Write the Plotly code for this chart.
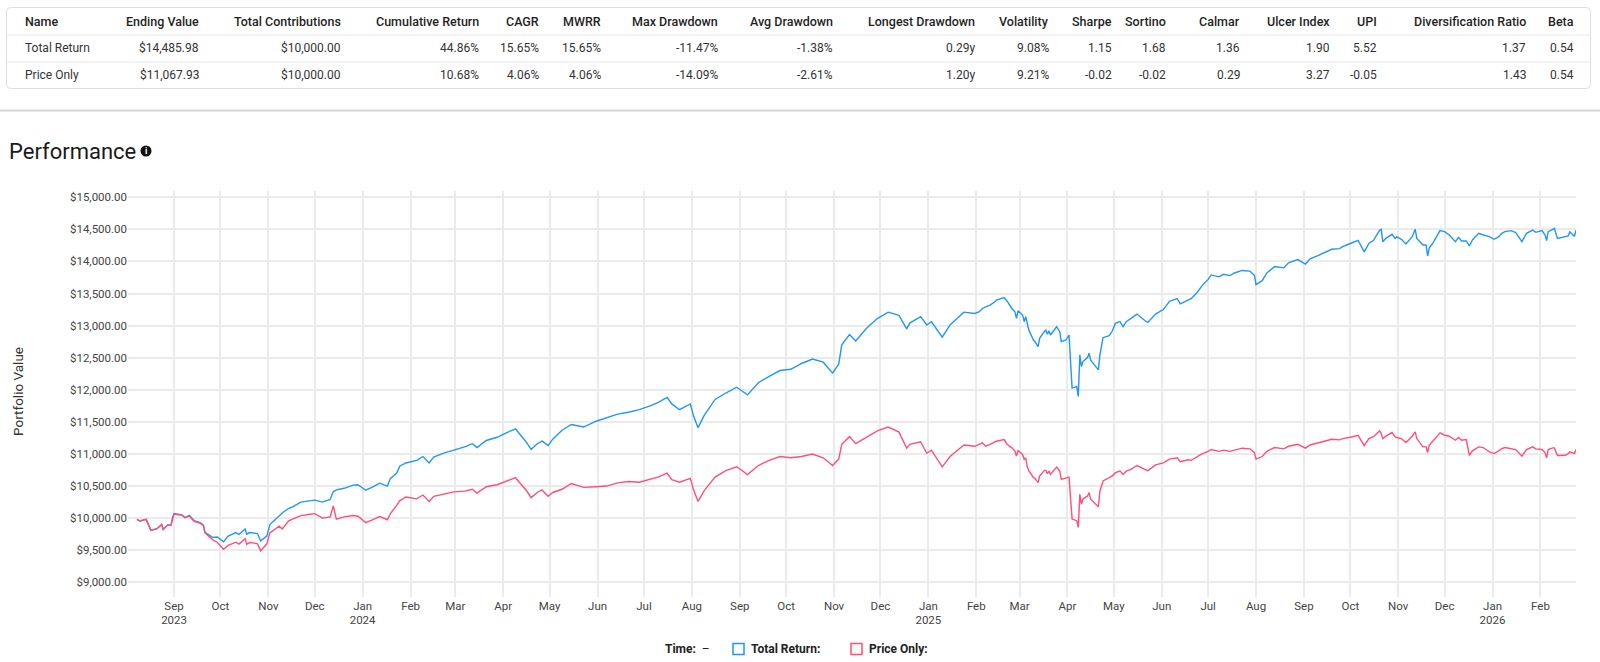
import plotly.graph_objects as go
import pandas as pd

W, H = 1600, 662

# ---------------- data ----------------
dates = [
    "2023-08-08", "2023-08-10", "2023-08-14", "2023-08-17", "2023-08-21", "2023-08-24", "2023-08-25",
    "2023-08-28", "2023-08-30", "2023-08-31", "2023-09-01", "2023-09-06", "2023-09-08", "2023-09-11",
    "2023-09-14", "2023-09-18", "2023-09-20", "2023-09-21", "2023-09-26", "2023-09-29", "2023-10-03",
    "2023-10-06", "2023-10-11", "2023-10-13", "2023-10-17", "2023-10-18", "2023-10-20", "2023-10-23",
    "2023-10-25", "2023-10-27", "2023-10-31", "2023-11-02", "2023-11-06", "2023-11-08", "2023-11-10",
    "2023-11-14", "2023-11-17", "2023-11-22", "2023-11-28", "2023-12-01", "2023-12-06", "2023-12-11",
    "2023-12-13", "2023-12-15", "2023-12-20", "2023-12-26", "2023-12-29", "2024-01-03", "2024-01-08",
    "2024-01-12", "2024-01-17", "2024-01-19", "2024-01-23", "2024-01-25", "2024-01-29",
    "2024-02-05", "2024-02-09", "2024-02-13", "2024-02-16", "2024-02-22", "2024-02-29", "2024-03-07",
    "2024-03-12", "2024-03-15", "2024-03-21", "2024-03-28", "2024-04-03", "2024-04-09", "2024-04-12",
    "2024-04-16", "2024-04-19", "2024-04-23", "2024-04-26", "2024-04-30", "2024-05-03", "2024-05-09",
    "2024-05-15", "2024-05-23", "2024-05-31", "2024-06-07", "2024-06-14", "2024-06-21", "2024-06-28",
    "2024-07-05", "2024-07-10", "2024-07-16", "2024-07-19", "2024-07-24", "2024-07-31", "2024-08-02",
    "2024-08-05", "2024-08-09", "2024-08-16", "2024-08-23", "2024-08-30", "2024-09-06", "2024-09-13",
    "2024-09-20", "2024-09-27", "2024-10-04", "2024-10-11", "2024-10-18", "2024-10-25", "2024-10-31",
    "2024-11-04", "2024-11-06", "2024-11-11", "2024-11-15", "2024-11-22", "2024-11-29", "2024-12-06",
    "2024-12-13", "2024-12-18", "2024-12-20", "2024-12-27", "2024-12-31", "2025-01-03", "2025-01-10",
    "2025-01-15", "2025-01-24", "2025-01-31",
    "2025-02-03", "2025-02-05", "2025-02-07", "2025-02-10", "2025-02-13", "2025-02-14", "2025-02-19",
    "2025-02-21", "2025-02-24", "2025-02-25", "2025-02-26", "2025-02-27", "2025-02-28", "2025-03-03",
    "2025-03-04", "2025-03-05", "2025-03-06", "2025-03-07", "2025-03-10", "2025-03-11", "2025-03-13",
    "2025-03-14", "2025-03-17", "2025-03-18", "2025-03-19", "2025-03-20", "2025-03-21", "2025-03-25",
    "2025-03-27", "2025-03-28", "2025-03-31", "2025-04-02", "2025-04-04", "2025-04-07", "2025-04-08",
    "2025-04-09", "2025-04-10", "2025-04-11", "2025-04-14", "2025-04-15", "2025-04-16", "2025-04-17",
    "2025-04-21", "2025-04-22", "2025-04-24", "2025-04-28", "2025-04-30", "2025-05-02", "2025-05-05",
    "2025-05-07", "2025-05-09", "2025-05-12",
    "2025-05-16", "2025-05-21", "2025-05-23", "2025-05-28", "2025-06-02", "2025-06-06", "2025-06-11",
    "2025-06-13", "2025-06-18", "2025-06-20", "2025-06-24", "2025-06-27", "2025-07-01", "2025-07-03",
    "2025-07-08", "2025-07-11", "2025-07-15", "2025-07-18", "2025-07-23", "2025-07-28", "2025-07-31",
    "2025-08-01", "2025-08-05", "2025-08-08", "2025-08-13", "2025-08-19", "2025-08-22", "2025-08-28",
    "2025-09-02", "2025-09-05", "2025-09-10", "2025-09-15", "2025-09-19", "2025-09-24", "2025-09-26",
    "2025-10-01", "2025-10-06", "2025-10-10", "2025-10-13", "2025-10-16",
    "2025-10-20", "2025-10-21", "2025-10-22", "2025-10-24", "2025-10-28", "2025-10-30", "2025-10-31",
    "2025-11-03", "2025-11-06", "2025-11-10", "2025-11-12", "2025-11-13", "2025-11-17", "2025-11-19",
    "2025-11-20", "2025-11-21", "2025-11-24", "2025-11-28", "2025-12-01", "2025-12-04", "2025-12-08",
    "2025-12-10", "2025-12-12", "2025-12-15", "2025-12-17", "2025-12-19", "2025-12-23", "2025-12-26",
    "2025-12-30", "2026-01-02", "2026-01-05", "2026-01-07", "2026-01-09", "2026-01-13", "2026-01-16",
    "2026-01-20", "2026-01-23", "2026-01-27", "2026-01-29", "2026-02-02", "2026-02-04", "2026-02-05",
    "2026-02-06", "2026-02-09", "2026-02-10", "2026-02-12", "2026-02-17", "2026-02-19", "2026-02-20",
    "2026-02-23", "2026-02-24",
]

total_return = [
    9980, 9955, 9980, 9810, 9835, 9900, 9825,
    9895, 9890, 10010, 10070, 10050, 10010, 10045,
    9960, 9930, 9890, 9780, 9700, 9705, 9630,
    9720, 9775, 9745, 9830, 9750, 9775, 9765,
    9760, 9645, 9720, 9900, 9990, 10030, 10080,
    10150, 10180, 10250, 10265, 10280, 10250, 10290,
    10410, 10440, 10465, 10515, 10520, 10435, 10490,
    10545, 10500, 10620, 10700, 10810, 10860,
    10900, 10960, 10860, 10950, 11010, 11060, 11110,
    11160, 11100, 11210, 11260, 11330, 11390, 11300,
    11180, 11070, 11160, 11200, 11130, 11230, 11370,
    11460, 11420, 11510, 11560, 11620, 11650, 11690,
    11750, 11800, 11880, 11780, 11690, 11780, 11600,
    11410, 11600, 11850, 11950, 12040, 11920, 12110,
    12210, 12300, 12320, 12410, 12480, 12430, 12260,
    12400, 12700, 12860, 12760, 12960, 13110, 13210,
    13160, 12950, 13040, 13140, 13010, 13060, 12820,
    13010, 13210, 13190,
    13216, 13267, 13293, 13319, 13371, 13397, 13438,
    13380, 13267, 13241, 13216, 13112, 13230, 13164,
    13061, 13138, 13035, 12930, 12776, 12750, 12673,
    12802, 12905, 12931, 12866, 12918, 12854, 12983,
    12905, 12750, 12776, 12854, 12027, 12053, 11897,
    12544, 12363, 12440, 12502, 12569, 12466, 12430,
    12311, 12544, 12812, 12843, 12916, 13035, 13061,
    12983, 13061, 13112,
    13180, 13080, 13050, 13180, 13250, 13380, 13420,
    13340, 13400, 13420, 13520, 13620, 13720, 13790,
    13760, 13800, 13780, 13820, 13860, 13850, 13780,
    13640, 13700, 13820, 13920, 13900, 13980, 14030,
    13960, 14040, 14090, 14140, 14190, 14200, 14230,
    14280, 14330, 14150, 14280, 14330,
    14490, 14501, 14308, 14360, 14423, 14360, 14386,
    14345, 14272, 14386, 14501, 14360, 14256, 14256,
    14085, 14204, 14308, 14480, 14464, 14412, 14308,
    14376, 14319, 14319, 14241, 14334, 14438, 14412,
    14386, 14345, 14386, 14438, 14464, 14480, 14449,
    14308, 14438, 14490, 14454, 14480, 14412, 14324,
    14464, 14501, 14516, 14360, 14386, 14397, 14464,
    14390, 14485.98,
]

price_only = [
    9980, 9955, 9980, 9810, 9835, 9900, 9825,
    9895, 9888, 10005, 10065, 10045, 10005, 10030,
    9950, 9920, 9880, 9770, 9665, 9620, 9515,
    9575, 9625, 9595, 9680, 9590, 9620, 9610,
    9600, 9490, 9600, 9770, 9835, 9875, 9830,
    9955, 9990, 10040, 10060, 10070, 10000, 10020,
    10190, 9985, 10020, 10040, 10030, 9930, 9980,
    10025, 9975, 10070, 10200, 10270, 10330,
    10300, 10360, 10260, 10340, 10370, 10410, 10420,
    10450, 10390, 10490, 10520, 10570, 10630, 10540,
    10430, 10320, 10400, 10440, 10340, 10400, 10450,
    10540, 10480, 10490, 10500, 10550, 10570, 10560,
    10610, 10640, 10700, 10600, 10560, 10620, 10450,
    10260, 10430, 10640, 10740, 10800, 10680, 10820,
    10900, 10960, 10940, 10960, 11000, 10940, 10820,
    10920, 11150, 11270, 11160, 11260, 11360, 11420,
    11340, 11090, 11150, 11190, 11010, 11060, 10800,
    10960, 11140, 11120,
    11148, 11174, 11122, 11148, 11189, 11199, 11225,
    11148, 11096, 11070, 11044, 10966, 11054, 10992,
    10915, 10941, 10800, 10740, 10630, 10620, 10553,
    10657, 10744, 10744, 10692, 10734, 10682, 10796,
    10734, 10605, 10630, 10640, 9985, 9960, 9855,
    10372, 10217, 10295, 10346, 10398, 10295, 10270,
    10176, 10424, 10579, 10630, 10657, 10708, 10734,
    10682, 10734, 10760,
    10820, 10760, 10740, 10830, 10860, 10920, 10940,
    10880, 10910, 10900, 10960, 11000, 11040, 11070,
    11040, 11060, 11040, 11060, 11090, 11080, 11020,
    10920, 10960, 11040, 11100, 11080, 11120, 11150,
    11090, 11140, 11170, 11200, 11230, 11220, 11240,
    11260, 11290, 11130, 11240, 11270,
    11360, 11318, 11240, 11277, 11334, 11266, 11256,
    11240, 11178, 11277, 11344, 11240, 11110, 11110,
    11022, 11136, 11214, 11329, 11292, 11277, 11214,
    11256, 11214, 11225, 10980, 11048, 11110, 11100,
    11032, 11006, 11048, 11084, 11100, 11084, 11069,
    10965, 11069, 11110, 11079, 11069, 11017, 10939,
    11069, 11095, 11095, 10975, 10980, 11006, 11032,
    11006, 11067.93,
]

series_names = ["Total Return", "Price Only"]
series_colors = ["#2196F3", "#FF4F78"]

table_columns = ["Name", "Ending Value", "Total Contributions", "Cumulative Return", "CAGR", "MWRR",
                 "Max Drawdown", "Avg Drawdown", "Longest Drawdown", "Volatility", "Sharpe", "Sortino",
                 "Calmar", "Ulcer Index", "UPI", "Diversification Ratio", "Beta"]
row_total_return = ["Total Return", "$14,485.98", "$10,000.00", "44.86%", "15.65%", "15.65%", "-11.47%",
                    "-1.38%", "0.29y", "9.08%", "1.15", "1.68", "1.36", "1.90", "5.52", "1.37", "0.54"]
row_price_only = ["Price Only", "$11,067.93", "$10,000.00", "10.68%", "4.06%", "4.06%", "-14.09%",
                  "-2.61%", "1.20y", "9.21%", "-0.02", "-0.02", "0.29", "3.27", "-0.05", "1.43", "0.54"]

y_ticks = [9000, 9500, 10000, 10500, 11000, 11500, 12000, 12500, 13000, 13500, 14000, 14500, 15000]

# month ticks: month name, with the year under the first tick and under each January
month_ticks = pd.date_range("2023-09-01", "2026-02-01", freq="MS")
month_labels = [d.strftime("%b") + ("<br>" + d.strftime("%Y") if (i == 0 or d.month == 1) else "")
                for i, d in enumerate(month_ticks)]

# ---------------- layout helpers ----------------
def px(x):
    return x / W

def py(y):
    return 1 - y / H

FONT = "Roboto, 'Noto Sans', Arial, sans-serif"

fig = go.Figure()
for name, vals, col in zip(series_names, [total_return, price_only], series_colors):
    fig.add_trace(go.Scatter(x=dates, y=vals, mode="lines", name=name,
                             line=dict(color=col, width=1.4), hoverinfo="skip"))

annotations = []
shapes = []

# table
col_right = [None, 200.5, 342.5, 480.5, 540.5, 602.5, 719.5, 834.5, 976.8, 1050.7, 1113.7, 1168.2,
             1242.4, 1331.7, 1379.3, 1527.9, 1575.9]
row_y = [21, 48.5, 75]
rows = [table_columns, row_total_return, row_price_only]
for ri, row in enumerate(rows):
    for ci, txt in enumerate(row):
        if ci == 0:
            xa, xpos = "left", 23
        else:
            xa, xpos = "right", col_right[ci]
        annotations.append(dict(
            text=txt, x=px(xpos), y=py(row_y[ri]), xref="paper", yref="paper",
            xanchor=xa, yanchor="middle", showarrow=False,
            font=dict(family=FONT, size=12.5 if ri == 0 else 12,
                      color="#1f1f1f" if ri == 0 else "#333333",
                      weight=500 if ri == 0 else 400)))

# table border with rounded corners
x0, x1, y0, y1, r = 6.5, 1590.5, 7.5, 88.5, 4
path = (f"M {px(x0 + r)} {py(y0)} L {px(x1 - r)} {py(y0)} Q {px(x1)} {py(y0)} {px(x1)} {py(y0 + r)} "
        f"L {px(x1)} {py(y1 - r)} Q {px(x1)} {py(y1)} {px(x1 - r)} {py(y1)} "
        f"L {px(x0 + r)} {py(y1)} Q {px(x0)} {py(y1)} {px(x0)} {py(y1 - r)} "
        f"L {px(x0)} {py(y0 + r)} Q {px(x0)} {py(y0)} {px(x0 + r)} {py(y0)} Z")
shapes.append(dict(type="path", path=path, xref="paper", yref="paper",
                   line=dict(color="#dedede", width=1)))
for ys in [35, 62]:
    shapes.append(dict(type="line", xref="paper", yref="paper", x0=px(x0), x1=px(x1),
                       y0=py(ys), y1=py(ys), line=dict(color="#e6e6e6", width=1)))
# section separator
shapes.append(dict(type="line", xref="paper", yref="paper", x0=0, x1=1, y0=py(110.5), y1=py(110.5),
                   line=dict(color="#d6d6d6", width=2)))

# title + info icon
annotations.append(dict(text="Performance", x=px(7), y=py(151), xref="paper", yref="paper",
                        xanchor="left", yanchor="middle", showarrow=False,
                        font=dict(family=FONT, size=22, color="#1a1a1a")))
shapes.append(dict(type="circle", xref="paper", yref="paper", x0=px(140.5), x1=px(151.5),
                   y0=py(145.5), y1=py(156.5), fillcolor="#111111", line=dict(width=0)))
annotations.append(dict(text="<b>i</b>", x=px(146), y=py(151), xref="paper", yref="paper",
                        xanchor="center", yanchor="middle", showarrow=False,
                        font=dict(family=FONT, size=9, color="white")))

# y axis title
annotations.append(dict(text="Portfolio Value", x=px(18), y=py(392), xref="paper", yref="paper",
                        xanchor="center", yanchor="middle", showarrow=False, textangle=-90,
                        font=dict(family=FONT, size=13.5, color="#333333")))

# custom legend
lg_y = 649
annotations.append(dict(text="<b>Time:</b>  –", x=px(663), y=py(lg_y), xref="paper", yref="paper",
                        xanchor="left", yanchor="middle", showarrow=False,
                        font=dict(family=FONT, size=12, color="#222222")))
for name, col, bx, tx in [(series_names[0], series_colors[0], 733, 749),
                          (series_names[1], series_colors[1], 851, 867)]:
    shapes.append(dict(type="rect", xref="paper", yref="paper", x0=px(bx), x1=px(bx + 11),
                       y0=py(lg_y - 5.5), y1=py(lg_y + 5.5), line=dict(color=col, width=1.5),
                       fillcolor="white"))
    annotations.append(dict(text=f"<b>{name}:</b>", x=px(tx), y=py(lg_y), xref="paper", yref="paper",
                            xanchor="left", yanchor="middle", showarrow=False,
                            font=dict(family=FONT, size=12, color="#222222")))

fig.update_layout(
    width=W, height=H, margin=dict(l=0, r=0, t=0, b=0),
    paper_bgcolor="white", plot_bgcolor="white", showlegend=False,
    font=dict(family=FONT, color="#444444"),
    annotations=annotations, shapes=shapes,
    xaxis=dict(domain=[px(128), px(1576)], type="date",
               range=["2023-08-02 05:00", "2026-02-24"],
               tickvals=list(month_ticks), ticktext=month_labels,
               ticks="", showline=False, zeroline=False,
               showgrid=True, gridcolor="#ebebeb", gridwidth=1.5,
               tickfont=dict(family=FONT, size=11.5, color="#444444")),
    yaxis=dict(domain=[py(597), py(191)], range=[8771, 15098],
               tickvals=y_ticks, tickformat="$,.2f", ticks="", showline=False, zeroline=False,
               showgrid=True, gridcolor="#ebebeb", gridwidth=1.5,
               tickfont=dict(family=FONT, size=11.5, color="#444444")),
)

fig.write_html("out.html")
